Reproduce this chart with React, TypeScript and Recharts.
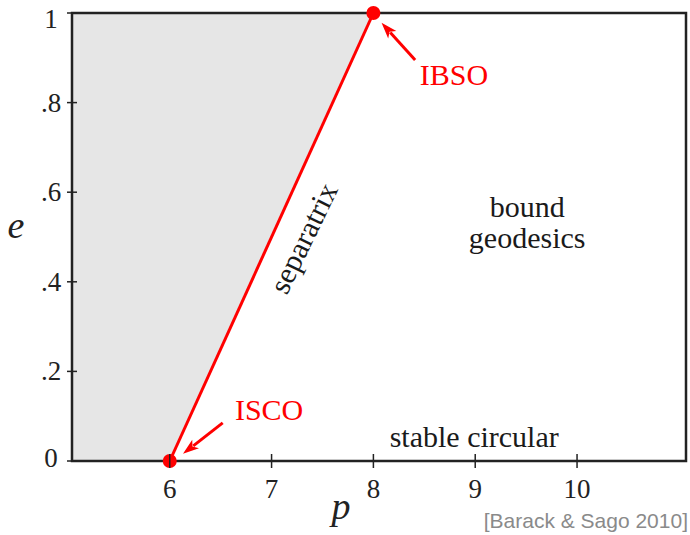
import React from 'react';
import {
  ComposedChart,
  Area,
  Line,
  XAxis,
  YAxis,
  ReferenceArea,
  ReferenceLine,
  ReferenceDot,
  Label,
} from 'recharts';

// axis setup
const P_DOMAIN: [number, number] = [5.04, 11.07];
const P_TICKS = [6, 7, 8, 9, 10];
const E_TICKS = [0, 0.2, 0.4, 0.6, 0.8, 1];
const E_TICK_LABELS = ['0', '.2', '.4', '.6', '.8', '1'];

// separatrix from ISCO (6, 0) to IBSO (8, 1)
const separatrix = [
  { p: 6, e: 0 },
  { p: 8, e: 1 },
];

// plunging region left of the separatrix, as [low, high] bands
const plungeRegion = [
  { p: 5.04, band: [0, 1] },
  { p: 6, band: [0, 1] },
  { p: 8, band: [1, 1] },
];

const arrows = [
  { from: { p: 6.52, e: 0.085 }, to: { p: 6.13, e: 0.016 } },
  { from: { p: 8.41, e: 0.895 }, to: { p: 8.08, e: 0.978 } },
];

const notes = [
  { text: 'ISCO', p: 6.64, e: 0.0915, color: '#ff0000', anchor: 'start', angle: 0 },
  { text: 'IBSO', p: 8.456, e: 0.839, color: '#ff0000', anchor: 'start', angle: 0 },
  { text: 'bound', p: 9.51, e: 0.545, color: '#1a1a1a', anchor: 'middle', angle: 0 },
  { text: 'geodesics', p: 9.51, e: 0.475, color: '#1a1a1a', anchor: 'middle', angle: 0 },
  { text: 'stable circular', p: 8.99, e: 0.031, color: '#1a1a1a', anchor: 'middle', angle: 0 },
  { text: 'separatrix', p: 7.31, e: 0.498, color: '#1a1a1a', anchor: 'middle', angle: -64 },
];

const SERIF = '"Liberation Serif", "Times New Roman", serif';
const INK = '#222';
const RED = '#ff0000';

const PTick: React.FC<any> = ({ x, y, payload }) => (
  <g>
    <line x1={x} x2={x} y1={y - 7} y2={y + 7} stroke={INK} strokeWidth={1.5} />
    <text x={x} y={y + 37} textAnchor="middle" fontFamily={SERIF} fontSize={27} fill={INK}>
      {payload.value}
    </text>
  </g>
);

const ETick: React.FC<any> = ({ x, y, payload }) => {
  const i = E_TICKS.indexOf(payload.value);
  // the end labels sit a little inside the frame in the original
  const dy = i === E_TICKS.length - 1 ? 15 : i === 0 ? 6 : 9;
  return (
    <g>
      <line x1={x - 5} x2={x + 5} y1={y} y2={y} stroke={INK} strokeWidth={1.5} />
      <text x={x - 21} y={y + dy} textAnchor="middle" fontFamily={SERIF} fontSize={27} fill={INK}>
        {E_TICK_LABELS[i]}
      </text>
    </g>
  );
};

const Arrow = (props: any) => {
  const { x1, y1, x2, y2 } = props;
  const ang = Math.atan2(y2 - y1, x2 - x1);
  const len = 16;
  const half = 5.5;
  const bx = x2 - len * Math.cos(ang);
  const by = y2 - len * Math.sin(ang);
  const nx = -Math.sin(ang) * half;
  const ny = Math.cos(ang) * half;
  return (
    <g>
      <line x1={x1} y1={y1} x2={bx + 3 * Math.cos(ang)} y2={by + 3 * Math.sin(ang)} stroke={RED} strokeWidth={3} />
      <polygon
        points={`${x2},${y2} ${bx + nx},${by + ny} ${bx + 4 * Math.cos(ang)},${by + 4 * Math.sin(ang)} ${bx - nx},${by - ny}`}
        fill={RED}
      />
    </g>
  );
};

const noteShape = (n: (typeof notes)[number]) => (props: any) => (
  <text
    x={props.cx}
    y={props.cy}
    textAnchor={n.anchor}
    dominantBaseline={n.angle ? 'central' : 'auto'}
    transform={n.angle ? `rotate(${n.angle} ${props.cx} ${props.cy})` : undefined}
    fontFamily={SERIF}
    fontSize={30}
    fill={n.color}
  >
    {n.text}
  </text>
);

const PLabel = (props: any) => {
  const vb = props.viewBox;
  return (
    <g>
      <text x={vb.x + vb.width * 0.438} y={vb.y + 58} textAnchor="middle" fontFamily={SERIF} fontStyle="italic" fontSize={38} fill={INK}>
        p
      </text>
      <text x={vb.x + vb.width + 2} y={vb.y + 67} textAnchor="end" fontFamily='"Liberation Sans", Arial, sans-serif' fontSize={21} fill="#8a8a8a">
        [Barack &amp; Sago 2010]
      </text>
    </g>
  );
};

const ELabel = (props: any) => {
  const vb = props.viewBox;
  return (
    <text x={vb.x + 16} y={vb.y + vb.height / 2 + 1} textAnchor="middle" fontFamily={SERIF} fontStyle="italic" fontSize={38} fill={INK}>
      e
    </text>
  );
};

export default function App() {
  return (
    <div style={{ position: 'absolute', left: 0, top: 0, background: '#fff' }}>
      <ComposedChart width={690} height={535} margin={{ top: 13, right: 4, bottom: 0, left: 0 }}>
        <XAxis
          dataKey="p"
          type="number"
          domain={P_DOMAIN}
          ticks={P_TICKS}
          interval={0}
          axisLine={false}
          tickLine={false}
          tickSize={0}
          tickMargin={0}
          tick={<PTick />}
          height={74}
        >
          <Label content={PLabel} />
        </XAxis>
        <YAxis
          type="number"
          domain={[0, 1]}
          ticks={E_TICKS}
          interval={0}
          axisLine={false}
          tickLine={false}
          tickSize={0}
          tickMargin={0}
          tick={<ETick />}
          width={72}
        >
          <Label content={ELabel} />
        </YAxis>
        <Area
          data={plungeRegion}
          dataKey="band"
          type="linear"
          stroke="none"
          fill="#e6e6e6"
          fillOpacity={1}
          isAnimationActive={false}
        />
        <ReferenceArea
          x1={P_DOMAIN[0]}
          x2={P_DOMAIN[1]}
          y1={0}
          y2={1}
          fill="none"
          stroke={INK}
          strokeWidth={2.5}
          ifOverflow="visible"
        />
        {notes.map((n) => (
          <ReferenceDot key={n.text} x={n.p} y={n.e} r={1} ifOverflow="visible" shape={noteShape(n)} />
        ))}
        {arrows.map((a, i) => (
          <ReferenceLine
            key={i}
            segment={[
              { x: a.from.p, y: a.from.e },
              { x: a.to.p, y: a.to.e },
            ]}
            ifOverflow="visible"
            shape={Arrow}
          />
        ))}
        <Line
          data={separatrix}
          dataKey="e"
          type="linear"
          stroke={RED}
          strokeWidth={3}
          dot={{ r: 7, fill: RED, stroke: RED, strokeWidth: 0 }}
          isAnimationActive={false}
        />
      </ComposedChart>
    </div>
  );
}
